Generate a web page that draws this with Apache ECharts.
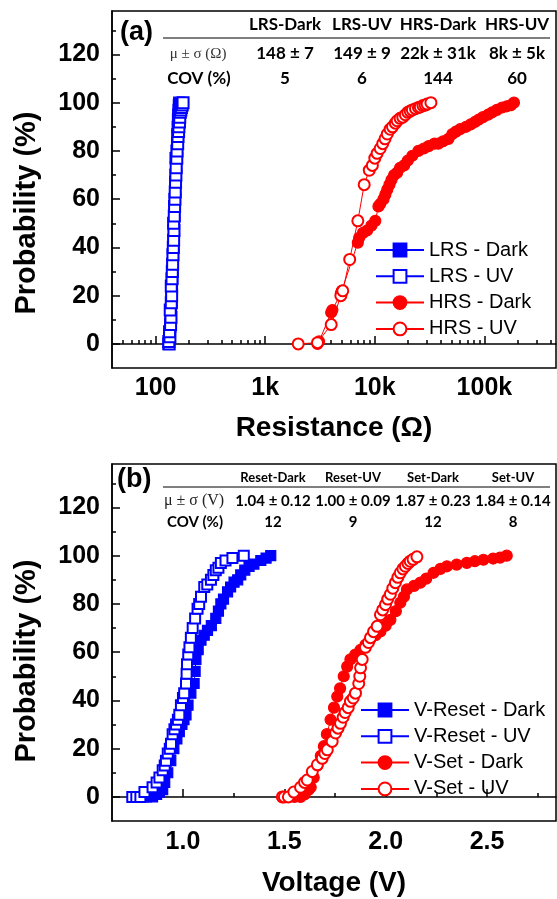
<!DOCTYPE html>
<html><head><meta charset="utf-8">
<script src="https://cdn.jsdelivr.net/npm/echarts@6/dist/echarts.min.js"></script>
<style>html,body{margin:0;padding:0;background:#fff}#c{width:557px;height:899px}</style>
</head><body><div id="c"></div>
<script>
// ---------- Panel (a): resistance (Ohm) vs cumulative probability (%) ----------
const lrsDarkR = [131,133,134,136,137,138,140,140,141,142,142,143,144,145,146,147,147,148,149,150,151,152,153,154,152,156,157,158,159,160,161,162,163,164];
const lrsDarkP = [0,2,4,7,10,13,17,20,23,27,30,33,37,40,43,47,50,53,57,60,63,67,70,73,77,80,83,87,90,93,95,97,99,100];
const lrsUvR = [133,132,135,134,137,138,136,139,140,139,141,142,143,144,145,146,147,146,148,149,150,151,152,153,154,156,157,159,160,162,163,165,166,168,170,172,175,178];
const lrsUvP = [0,1,3,5,8,11,14,17,20,24,27,30,33,37,40,43,47,50,53,57,60,63,67,70,73,77,80,83,86,88,90,92,94,96,97,98,99,100];
const hrsDarkR = [3000,3100,4000,4100,4900,5000,7000,7200,7800,8500,9300,10100,10800,11200,12000,12500,13000,13600,14200,15000,16000,17000,18500,20000,22000,25000,28000,31000,35000,38000,42000,47000,51000,55000,60000,68000,75000,82000,89000,97000,108000,118000,130000,145000,160000,175000,186000];
const hrsDarkP = [0,1,13,14,21,22,42,44,46,47,49,51,57,58,60,62,64,66,68,70,71,73,74,76,78,80,81,82,83,83,84,85,87,88,89,90,91,92,93,94,95,96,97,98,98.5,99,100];
const hrsUvR = [2000,3000,4000,4900,5100,5900,7000,8000,8900,9500,10000,10500,11200,11800,12400,13000,13800,14500,15400,16000,17000,18000,19000,20000,21000,22000,23500,25000,26000,27500,28800,30000,32500];
const hrsUvP = [0,0.5,8,20,22,35,51,66,72,74,77,79,81,83,85,87,89,90,91.5,92.5,93.5,94,95,96,96.5,97,97.5,98,98.2,98.8,99,99.4,100];

// ---------- Panel (b): voltage (V) vs cumulative probability (%) ----------
const resetDarkV = [0.80,0.82,0.85,0.87,0.884,0.90,0.91,0.925,0.94,0.955,0.97,0.982,0.995,1.005,1.015,1.025,1.039,1.055,1.06,1.064,1.075,1.089,1.105,1.121,1.14,1.162,1.175,1.187,1.20,1.22,1.235,1.252,1.27,1.285,1.305,1.326,1.35,1.384,1.41,1.433];
const resetDarkP = [0,0,0,1,2,3,6,10,15,20,24,27,30,32,34,38,43,47,52,57,61,65,67,69,71,74,77,80,82,85,87,89,90,92,94,95.5,96.5,98,99,100];
const resetUvV = [0.75,0.77,0.79,0.81,0.85,0.87,0.884,0.90,0.91,0.916,0.925,0.935,0.941,0.949,0.958,0.966,0.975,0.982,0.99,1.0,1.006,1.015,1.018,1.02,1.026,1.032,1.039,1.048,1.06,1.072,1.08,1.089,1.105,1.12,1.138,1.15,1.162,1.175,1.187,1.21,1.244,1.30];
const resetUvP = [0,0,0,2,4,6,8,11,13,15,18,20,22,26,28,30,32,34,38,41,43,47,51,55,59,62,66,70,74,78,80,83,87,88,90,92,94,95,97,98,99,100];
const setDarkV = [1.52,1.55,1.58,1.60,1.62,1.63,1.645,1.663,1.68,1.695,1.71,1.728,1.745,1.761,1.775,1.793,1.81,1.826,1.85,1.876,1.90,1.925,1.95,1.974,2.0,2.023,2.05,2.072,2.09,2.105,2.14,2.171,2.20,2.236,2.27,2.302,2.35,2.40,2.44,2.482,2.53,2.564,2.597];
const setDarkP = [0,0,0,1,3,4,8,13,17,21,26,32,37,41.6,45,50,54,57,59,61,63,65.5,67,68.6,71,73.4,77,80.5,83,86,87.5,88.8,90.5,92.9,94.5,95.6,96.3,97,97.7,98.3,98.8,99.2,100];
const setUvV = [1.49,1.50,1.52,1.547,1.58,1.60,1.613,1.638,1.663,1.687,1.70,1.712,1.736,1.753,1.765,1.777,1.79,1.80,1.815,1.826,1.84,1.851,1.867,1.872,1.876,1.884,1.90,1.915,1.925,1.94,1.958,1.974,1.985,1.999,2.01,2.023,2.035,2.048,2.06,2.072,2.085,2.097,2.11,2.121,2.135,2.154];
const setUvP = [0,0,0,2,4,6,7,10.5,13.3,16,18,19.5,23,26.5,28.5,30.5,33,35,37,39.6,41,43,47,50,53.5,57,62,64,66,68.5,70.7,75.5,77.5,79.7,82,84,86.5,88.8,91,92.9,94.5,95.6,96.8,97.7,98.5,99.5];

// ---------- ticks ----------
const yTicks = [0,20,40,60,80,100,120];
const yMinorTicks = [10,30,50,70,90,110,130];
const xTicksA = [100,1000,10000,100000];
const xTickLabelsA = ['100','1k','10k','100k'];
const xMinorTicksA = [50,60,70,80,90,200,300,400,500,600,700,800,900,2000,3000,4000,5000,6000,7000,8000,9000,20000,30000,40000,50000,60000,70000,80000,90000,200000,300000,400000];
const xTicksB = [1.0,1.5,2.0,2.5];
const xMinorTicksB = [0.75,1.25,1.75,2.25,2.75];

// ---------- tables ----------
const tableAHead = ['LRS-Dark','LRS-UV','HRS-Dark','HRS-UV'];
const tableAMean = ['148 ± 7','149 ± 9','22k ± 31k','8k ± 5k'];
const tableACov = ['5','6','144','60'];
const tableBHead = ['Reset-Dark','Reset-UV','Set-Dark','Set-UV'];
const tableBMean = ['1.04 ± 0.12','1.00 ± 0.09','1.87 ± 0.23','1.84 ± 0.14'];
const tableBCov = ['12','9','12','8'];

const namesA = ['LRS - Dark','LRS - UV','HRS - Dark','HRS - UV'];
const namesB = ['V-Reset - Dark','V-Reset - UV','V-Set - Dark','V-Set - UV'];

const BLUE = '#0000ff', RED = '#ff0000';
const AX = 'Liberation Sans, Arial, sans-serif';
const TB = 'Lato, sans-serif';

function pairs(xs, ys){ return xs.map((x,i)=>[x, ys[i]]); }

const chart = echarts.init(document.getElementById('c'));

const gridA = {left:112, right:1, top:11, height:357, show:true, borderColor:'#000', borderWidth:1.5, backgroundColor:'#fff'};
const gridB = {left:112, right:1, top:464, height:357, show:true, borderColor:'#000', borderWidth:1.5, backgroundColor:'#fff'};

function yMain(gi){
  return {gridIndex:gi, type:'value', min:-10, max:138, position:'left',
    axisLine:{show:true, lineStyle:{color:'#000', width:1.5}},
    axisTick:{show:true, inside:true, length:8, customValues:yTicks, lineStyle:{color:'#000', width:1.5}},
    axisLabel:{customValues:yTicks, margin:12, color:'#000', fontFamily:AX, fontWeight:'bold', fontSize:25},
    splitLine:{show:false}};
}
function yMinor(gi){
  return {gridIndex:gi, type:'value', min:-10, max:138, position:'left',
    axisLine:{show:false},
    axisTick:{show:true, inside:true, length:4, customValues:yMinorTicks, lineStyle:{color:'#000', width:1.5}},
    axisLabel:{show:false}, splitLine:{show:false}};
}

const legendText = {color:'#000', fontFamily:AX, fontSize:20, lineHeight:20};

const option = {
  animation:false,
  backgroundColor:'#fff',
  grid:[gridA, gridB],
  xAxis:[
    {gridIndex:0, type:'log', logBase:10, min:40, max:450000, position:'bottom',
     axisLine:{show:true, lineStyle:{color:'#000', width:1.5}},
     axisTick:{show:true, inside:true, length:8, customValues:xTicksA, lineStyle:{color:'#000', width:1.5}},
     axisLabel:{customValues:xTicksA, margin:8, color:'#000', fontFamily:AX, fontWeight:'bold', fontSize:25,
       formatter:function(v){ let best=0; xTicksA.forEach((t,i)=>{ if(Math.abs(Math.log10(t)-Math.log10(v))<Math.abs(Math.log10(xTicksA[best])-Math.log10(v))) best=i; }); return xTickLabelsA[best]; }},
     splitLine:{show:false},
     name:'Resistance (Ω)', nameLocation:'middle', nameGap:46,
     nameTextStyle:{color:'#000', fontFamily:AX, fontWeight:'bold', fontSize:28}},
    {gridIndex:0, type:'log', logBase:10, min:40, max:450000, position:'bottom',
     axisLine:{show:false},
     axisTick:{show:true, inside:true, length:4, customValues:xMinorTicksA, lineStyle:{color:'#000', width:1.5}},
     axisLabel:{show:false}, splitLine:{show:false}},
    {gridIndex:1, type:'value', min:0.65, max:2.84, position:'bottom',
     axisLine:{show:true, lineStyle:{color:'#000', width:1.5}},
     axisTick:{show:true, inside:true, length:8, customValues:xTicksB, lineStyle:{color:'#000', width:1.5}},
     axisLabel:{customValues:xTicksB, margin:9, color:'#000', fontFamily:AX, fontWeight:'bold', fontSize:25,
       formatter:function(v){ return Number(v).toFixed(1); }},
     splitLine:{show:false},
     name:'Voltage (V)', nameLocation:'middle', nameGap:48,
     nameTextStyle:{color:'#000', fontFamily:AX, fontWeight:'bold', fontSize:28}},
    {gridIndex:1, type:'value', min:0.65, max:2.84, position:'bottom',
     axisLine:{show:false},
     axisTick:{show:true, inside:true, length:4, customValues:xMinorTicksB, lineStyle:{color:'#000', width:1.5}},
     axisLabel:{show:false}, splitLine:{show:false}}
  ],
  yAxis:[yMain(0), yMinor(0), yMain(1), yMinor(1)],
  legend:[
    {data:namesA, orient:'vertical', left:375, top:240, padding:0, itemWidth:48, itemHeight:16, itemGap:6.3, textStyle:legendText},
    {data:namesB, orient:'vertical', left:360, top:700, padding:0, itemWidth:48, itemHeight:16, itemGap:6.3, textStyle:legendText}
  ],
  series:[
    mk(namesA[0], 0, 0, pairs(lrsDarkR, lrsDarkP), 'rect', BLUE, 11),
    mk(namesA[1], 0, 0, pairs(lrsUvR, lrsUvP), 'emptyRect', BLUE, 11),
    mk(namesA[2], 0, 0, pairs(hrsDarkR, hrsDarkP), 'circle', RED, 11),
    mk(namesA[3], 0, 0, pairs(hrsUvR, hrsUvP), 'emptyCircle', RED, 11),
    mk(namesB[0], 2, 2, pairs(resetDarkV, resetDarkP), 'rect', BLUE, 10),
    mk(namesB[1], 2, 2, pairs(resetUvV, resetUvP), 'emptyRect', BLUE, 10),
    mk(namesB[2], 2, 2, pairs(setDarkV, setDarkP), 'circle', RED, 11),
    mk(namesB[3], 2, 2, pairs(setUvV, setUvP), 'emptyCircle', RED, 11)
  ],
  graphic: buildGraphics()
};

function mk(name, xi, yi, data, symbol, color, size){
  return {name:name, type:'line', xAxisIndex:xi, yAxisIndex:yi, data:data, symbol:symbol, symbolSize:size,
    showAllSymbol:true, clip:false, color:color,
    lineStyle:{color:color, width:1}, itemStyle:{color:color, borderColor:color, borderWidth:1.2},
    emphasis:{disabled:true}};
}

function buildGraphics(){
  const g = [];
  const colsA = [285,362,438,517], colsB = [273,353,433,513];
  // y-axis titles
  g.push({type:'text', x:27, y:213, rotation:Math.PI/2, z:100,
    style:{text:'Probability (%)', font:'bold 29px '+AX, fill:'#000', textAlign:'center', textVerticalAlign:'middle'}});
  g.push({type:'text', x:27, y:661, rotation:Math.PI/2, z:100,
    style:{text:'Probability (%)', font:'bold 29px '+AX, fill:'#000', textAlign:'center', textVerticalAlign:'middle'}});

  g.push({type:'text', left:120, top:19, style:{text:'(a)', font:'bold 27px '+AX, fill:'#000'}});
  g.push({type:'line', shape:{x1:163, y1:38, x2:550, y2:38}, style:{stroke:'#000', lineWidth:1}});
  tableAHead.forEach((t,i)=>g.push(tx(t, colsA[i], 25, 'bold 17px '+TB)));
  tableAMean.forEach((t,i)=>g.push(tx(t, colsA[i], 54, 'bold 17px '+TB)));
  tableACov.forEach((t,i)=>g.push(tx(t, colsA[i], 79, 'bold 17px '+TB)));
  g.push(tx('μ ± σ (Ω)', 198, 54, '15px Liberation Serif, serif', '#333'));
  g.push(tx('COV (%)', 199, 79, 'bold 17px '+TB));

  g.push({type:'text', left:117, top:466, style:{text:'(b)', font:'bold 27px '+AX, fill:'#000'}});
  g.push({type:'line', shape:{x1:163, y1:487, x2:550, y2:487}, style:{stroke:'#000', lineWidth:1}});
  tableBHead.forEach((t,i)=>g.push(tx(t, colsB[i], 478, 'bold 13px '+TB)));
  tableBMean.forEach((t,i)=>g.push(tx(t, colsB[i], 501, 'bold 15px '+TB)));
  tableBCov.forEach((t,i)=>g.push(tx(t, colsB[i], 522, 'bold 15px '+TB)));
  g.push(tx('μ ± σ (V)', 194, 501, '16px Liberation Serif, serif', '#222'));
  g.push(tx('COV (%)', 195, 522, 'bold 15px '+TB));
  return g;
}
function tx(t, x, y, font, fill){
  return {type:'text', x:x, y:y, z:100, style:{text:t, font:font, fill:fill||'#000', textAlign:'center', textVerticalAlign:'middle'}};
}

chart.setOption(option);
</script>
</body></html>
